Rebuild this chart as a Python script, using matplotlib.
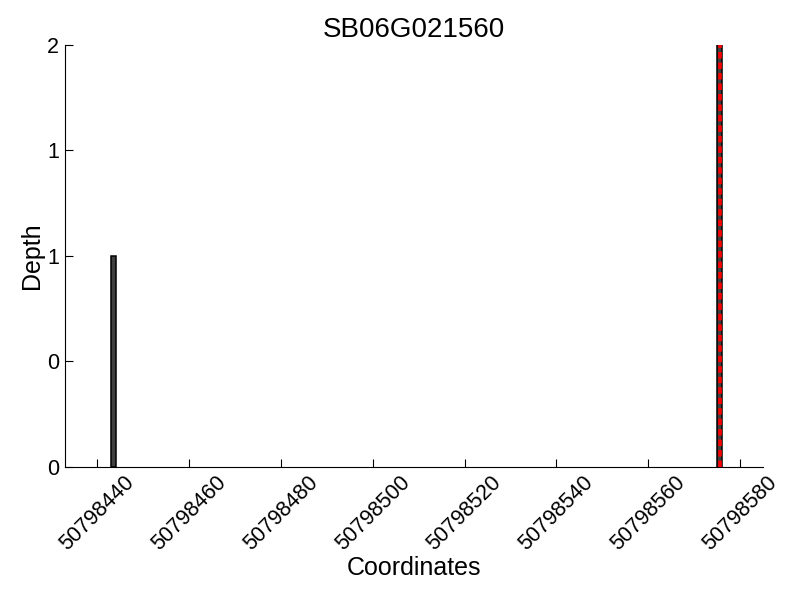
import matplotlib
matplotlib.use("Agg")
import matplotlib.pyplot as plt
from matplotlib.ticker import FormatStrFormatter, MultipleLocator

plt.rcParams['font.family'] = ['Liberation Sans', 'DejaVu Sans']

title = "SB06G021560"
positions = [50798443, 50798575]
depths = [1, 2]
highlight_pos = 50798575
highlight_depth = 2
xticks = [50798440, 50798460, 50798480, 50798500, 50798520, 50798540, 50798560, 50798580]

fig = plt.figure(figsize=(8, 6), dpi=100)
ax = fig.add_axes([0.081, 0.222, 0.873, 0.703])

ax.bar(positions, depths, width=1.0, align='edge', color='#404040',
       edgecolor='black', linewidth=1.1, zorder=2)
ax.vlines(highlight_pos + 0.5, 0, highlight_depth, colors='#ff0000',
          linestyles=(0, (1.8, 1.1)), linewidth=2.6, zorder=3)

ax.set_xlim(50798432.96, 50798585.0)
ax.set_ylim(0, 2)
ax.set_xticks(xticks)
ax.set_xticklabels([str(v) for v in xticks], rotation=45, fontsize=15.5)
ax.yaxis.set_major_locator(MultipleLocator(0.5))
ax.yaxis.set_major_formatter(FormatStrFormatter('%d'))
ax.tick_params(axis='both', direction='in', length=6, width=0.8, labelsize=15.5)
ax.tick_params(axis='y', pad=4)
ax.tick_params(axis='x', pad=4)
for s in ['top', 'right']:
    ax.spines[s].set_visible(False)

ax.set_title(title, fontsize=20, pad=6)
ax.set_xlabel("Coordinates", fontsize=18, labelpad=1)
ax.set_ylabel("Depth", fontsize=18, labelpad=2)

fig.savefig("out.png", dpi=100)
